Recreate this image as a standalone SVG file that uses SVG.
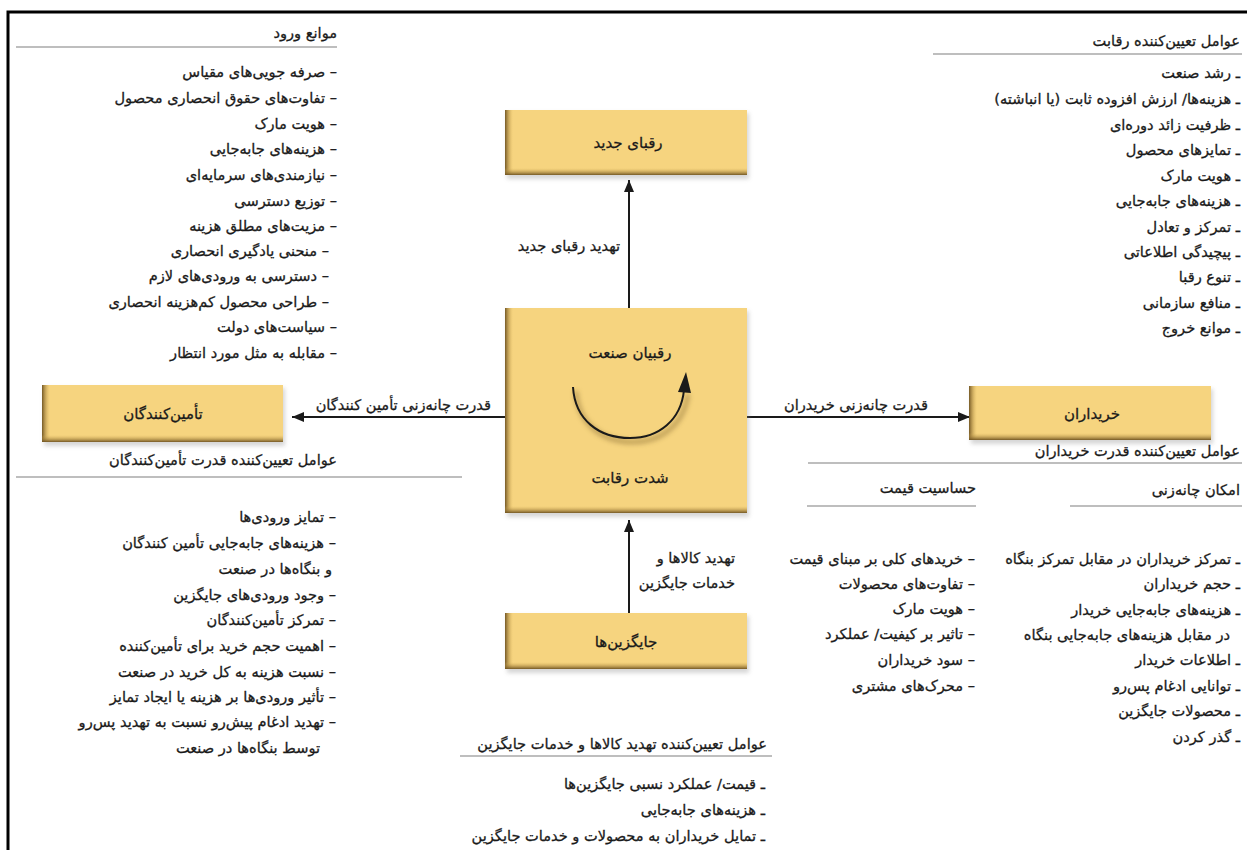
<svg xmlns="http://www.w3.org/2000/svg" width="1247" height="850" viewBox="0 0 1247 850">
  <defs>
    <style>
      text { font-family: "DejaVu Sans", "Noto Sans", sans-serif; font-size: 14.6px; fill: #1a1a1a; stroke: #1a1a1a; stroke-width: 0.3px; }
      .rtl { direction: rtl; text-anchor: start; unicode-bidi: embed; }
      .mid { text-anchor: middle; font-size: 15px; }
      .rule { stroke: #a8a8a8; stroke-width: 1.5; }
      .frame { stroke: #000; stroke-width: 3; fill: none; }
      .face { fill: #f6d47f; }
      .edgeL { fill: url(#gLeft); }
      .edgeB { fill: url(#gBottom); }
      .shade { fill: #8a8a8a; opacity: 0.35; filter: url(#soft); }
      .link { stroke: #1a1a1a; stroke-width: 2; fill: none; }
    </style>
    <linearGradient id="gLeft" x1="0" y1="0" x2="1" y2="0">
      <stop offset="0" stop-color="#6e5220" stop-opacity="0.95"/>
      <stop offset="1" stop-color="#d8b25c" stop-opacity="0"/>
    </linearGradient>
    <linearGradient id="gBottom" x1="0" y1="0" x2="0" y2="1">
      <stop offset="0" stop-color="#d8b25c" stop-opacity="0"/>
      <stop offset="1" stop-color="#6e5220" stop-opacity="0.95"/>
    </linearGradient>
    <filter id="soft" x="-10%" y="-10%" width="120%" height="130%">
      <feGaussianBlur stdDeviation="2"/>
    </filter>
    <filter id="blurArc" x="-20%" y="-20%" width="140%" height="140%">
      <feGaussianBlur stdDeviation="2.5"/>
    </filter>
    <marker id="head" viewBox="0 0 12 10" refX="12" refY="5" markerWidth="12" markerHeight="10" markerUnits="userSpaceOnUse" orient="auto">
      <path d="M0,0 L12,5 L0,10 Z" fill="#1a1a1a"/>
    </marker>
  </defs>

  <rect width="1247" height="850" fill="#ffffff"/>

  <!-- outer frame: top and left rules -->
  <path class="frame" d="M8,850 L8,12 L1247,12"/>

  <!-- connectors -->
  <g id="connectors">
    <line class="link" x1="629" y1="308" x2="629" y2="180" marker-end="url(#head)"/>
    <line class="link" x1="629" y1="613" x2="629" y2="520" marker-end="url(#head)"/>
    <line class="link" x1="505" y1="417" x2="292" y2="417" marker-end="url(#head)"/>
    <line class="link" x1="747" y1="417" x2="970" y2="417" marker-end="url(#head)"/>
    <text class="rtl" x="620" y="251">تهدید رقبای جدید</text>
    <text class="rtl" x="735" y="563">تهدید کالاها و</text>
    <text class="rtl" x="735" y="588">خدمات جایگزین</text>
    <text class="rtl" x="491" y="410">قدرت چانه‌زنی تأمین کنندگان</text>
    <text class="rtl" x="928" y="410">قدرت چانه‌زنی خریدران</text>
  </g>

  <!-- potential entrants -->
  <g id="node-new-entrants">
    <rect class="shade" x="507" y="113" width="242" height="66"/>
    <rect class="face" x="505" y="110" width="242" height="65"/>
    <rect class="edgeL" x="505" y="110" width="8" height="65"/>
    <rect class="edgeB" x="505" y="168" width="242" height="7"/>
    <text class="mid" x="628" y="148">رقبای جدید</text>
  </g>

  <!-- industry competitors -->
  <g id="node-rivalry">
    <rect class="shade" x="507" y="311" width="242" height="206"/>
    <rect class="face" x="505" y="308" width="242" height="205"/>
    <rect class="edgeL" x="505" y="308" width="8" height="205"/>
    <rect class="edgeB" x="505" y="506" width="242" height="7"/>
    <text class="mid" x="630" y="358">رقبیان صنعت</text>
    <path d="M576,391 C578,424 602,442 633,442 C662,442 684,424 688,394" stroke="#7a5f2a" stroke-width="4" fill="none" opacity="0.5" filter="url(#blurArc)"/>
    <path d="M573,387 C575,420 599,438 630,438 C659,438 681,420 684,390" stroke="#1a1a1a" stroke-width="2" fill="none"/>
    <path d="M678,392 L686,372 L691,393 Z" fill="#1a1a1a"/>
    <text class="mid" x="630" y="483">شدت  رقابت</text>
  </g>

  <!-- substitutes -->
  <g id="node-substitutes">
    <rect class="shade" x="507" y="616" width="242" height="57"/>
    <rect class="face" x="505" y="613" width="242" height="56"/>
    <rect class="edgeL" x="505" y="613" width="8" height="56"/>
    <rect class="edgeB" x="505" y="662" width="242" height="7"/>
    <text class="mid" x="626" y="647">جایگزین‌ها</text>
  </g>

  <!-- suppliers -->
  <g id="node-suppliers">
    <rect class="shade" x="44" y="388" width="241" height="58"/>
    <rect class="face" x="42" y="385" width="241" height="57"/>
    <rect class="edgeL" x="42" y="385" width="8" height="57"/>
    <rect class="edgeB" x="42" y="435" width="241" height="7"/>
    <text class="mid" x="163" y="419">تأمین‌کنندگان</text>
  </g>

  <!-- buyers -->
  <g id="node-buyers">
    <rect class="shade" x="971" y="389" width="242" height="55"/>
    <rect class="face" x="969" y="386" width="242" height="54"/>
    <rect class="edgeL" x="969" y="386" width="8" height="54"/>
    <rect class="edgeB" x="969" y="433" width="242" height="7"/>
    <text class="mid" x="1092" y="419">خریداران</text>
  </g>

  <!-- entry barriers -->
  <g id="list-entry-barriers">
    <text class="rtl" x="337" y="38">موانع ورود</text>
    <line class="rule" x1="16" y1="47" x2="337" y2="47"/>
    <text class="rtl" x="337" y="77">– صرفه جویی‌های مقیاس</text>
    <text class="rtl" x="337" y="103">– تفاوت‌های حقوق انحصاری محصول</text>
    <text class="rtl" x="337" y="129">– هویت مارک</text>
    <text class="rtl" x="337" y="154">– هزینه‌های جابه‌جایی</text>
    <text class="rtl" x="337" y="180">– نیازمندی‌های سرمایه‌ای</text>
    <text class="rtl" x="337" y="206">– توزیع دسترسی</text>
    <text class="rtl" x="337" y="231">– مزیت‌های مطلق هزینه</text>
    <text class="rtl" x="329" y="256">– منحنی یادگیری انحصاری</text>
    <text class="rtl" x="329" y="281">– دسترسی به ورودی‌های لازم</text>
    <text class="rtl" x="329" y="307">– طراحی محصول کم‌هزینه انحصاری</text>
    <text class="rtl" x="337" y="332">– سیاست‌های دولت</text>
    <text class="rtl" x="337" y="358">– مقابله به مثل مورد انتظار</text>
  </g>

  <!-- rivalry determinants -->
  <g id="list-rivalry">
    <text class="rtl" x="1240" y="46">عوامل تعیین‌کننده رقابت</text>
    <line class="rule" x1="933" y1="54" x2="1242" y2="54"/>
    <text class="rtl" x="1240" y="78">ـ رشد صنعت</text>
    <text class="rtl" x="1240" y="104">ـ هزینه‌ها/ ارزش افزوده ثابت (یا انباشته)</text>
    <text class="rtl" x="1240" y="130">ـ ظرفیت زائد دوره‌ای</text>
    <text class="rtl" x="1240" y="155">ـ تمایزهای محصول</text>
    <text class="rtl" x="1240" y="181">ـ هویت مارک</text>
    <text class="rtl" x="1240" y="206">ـ هزینه‌های جابه‌جایی</text>
    <text class="rtl" x="1240" y="232">ـ تمرکز و تعادل</text>
    <text class="rtl" x="1240" y="257">ـ پیچیدگی اطلاعاتی</text>
    <text class="rtl" x="1240" y="282">ـ تنوع رقبا</text>
    <text class="rtl" x="1240" y="308">ـ منافع سازمانی</text>
    <text class="rtl" x="1240" y="333">ـ موانع خروج</text>
  </g>

  <!-- supplier power determinants -->
  <g id="list-supplier-power">
    <text class="rtl" x="337" y="465">عوامل تعیین‌کننده قدرت تأمین‌کنندگان</text>
    <line class="rule" x1="16" y1="477" x2="462" y2="477"/>
    <text class="rtl" x="336" y="522">– تمایز ورودی‌ها</text>
    <text class="rtl" x="336" y="548">– هزینه‌های جابه‌جایی تأمین کنندگان</text>
    <text class="rtl" x="332" y="574">و بنگاه‌ها در صنعت</text>
    <text class="rtl" x="336" y="600">– وجود ورودی‌های جایگزین</text>
    <text class="rtl" x="336" y="625">– تمرکز تأمین‌کنندگان</text>
    <text class="rtl" x="336" y="651">– اهمیت حجم خرید برای تأمین‌کننده</text>
    <text class="rtl" x="336" y="677">– نسبت هزینه به کل خرید در صنعت</text>
    <text class="rtl" x="336" y="702">– تأثیر ورودی‌ها بر هزینه یا ایجاد تمایز</text>
    <text class="rtl" x="336" y="727">– تهدید ادغام پیش‌رو نسبت به تهدید پس‌رو</text>
    <text class="rtl" x="320" y="753">توسط بنگاه‌ها در صنعت</text>
  </g>

  <!-- substitute threat determinants -->
  <g id="list-substitute-threat">
    <text class="rtl" x="767" y="749">عوامل تعیین‌کننده تهدید کالاها و خدمات جایگزین</text>
    <line class="rule" x1="460" y1="756" x2="772" y2="756"/>
    <text class="rtl" x="765" y="789">ـ قیمت/ عملکرد نسبی جایگزین‌ها</text>
    <text class="rtl" x="765" y="815">ـ هزینه‌های جابه‌جایی</text>
    <text class="rtl" x="765" y="841">ـ تمایل خریداران به محصولات و خدمات جایگزین</text>
  </g>

  <!-- buyer power determinants -->
  <g id="list-buyer-power">
    <text class="rtl" x="1240" y="456">عوامل تعیین‌کننده قدرت خریداران</text>
    <line class="rule" x1="808" y1="463" x2="1242" y2="463"/>
    <text class="rtl" x="1240" y="495">امکان چانه‌زنی</text>
    <line class="rule" x1="1070" y1="506" x2="1242" y2="506"/>
    <text class="rtl" x="976" y="493">حساسیت قیمت</text>
    <line class="rule" x1="807" y1="506" x2="976" y2="506"/>

    <text class="rtl" x="1240" y="564">ـ تمرکز خریداران در مقابل تمرکز بنگاه</text>
    <text class="rtl" x="1240" y="589">ـ حجم خریداران</text>
    <text class="rtl" x="1240" y="615">ـ هزینه‌های جابه‌جایی خریدار</text>
    <text class="rtl" x="1230" y="640">در مقابل هزینه‌های جابه‌جایی بنگاه</text>
    <text class="rtl" x="1240" y="665">ـ اطلاعات خریدار</text>
    <text class="rtl" x="1240" y="691">ـ توانایی ادغام پس‌رو</text>
    <text class="rtl" x="1240" y="716">ـ محصولات جایگزین</text>
    <text class="rtl" x="1240" y="742">ـ گذر کردن</text>

    <text class="rtl" x="975" y="564">– خریدهای کلی بر مبنای قیمت</text>
    <text class="rtl" x="975" y="589">– تفاوت‌های محصولات</text>
    <text class="rtl" x="975" y="614">– هویت مارک</text>
    <text class="rtl" x="975" y="639">– تاثیر بر کیفیت/ عملکرد</text>
    <text class="rtl" x="975" y="665">– سود خریداران</text>
    <text class="rtl" x="975" y="691">– محرک‌های مشتری</text>
  </g>
</svg>
